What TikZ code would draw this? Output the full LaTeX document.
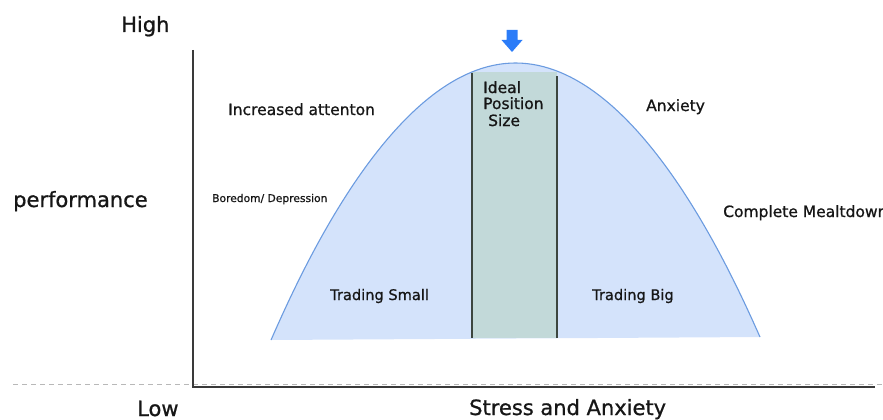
\documentclass[tikz,border=0pt]{standalone}
\usepackage{fontspec}
\setmainfont[FakeBold=0.9]{DejaVu Sans}
\usetikzlibrary{positioning}

\definecolor{curvefill}{HTML}{D4E3FB}
\definecolor{curveline}{HTML}{6B9BE0}
\definecolor{bandfill}{HTML}{C2D9D9}
\definecolor{bandline}{HTML}{3C463F}
\definecolor{arrowblue}{HTML}{2B7CF8}
\definecolor{axisgray}{HTML}{3A3A3A}
\definecolor{dashgray}{HTML}{B8B8B8}
\definecolor{labelgray}{HTML}{161616}

\begin{document}
\begin{tikzpicture}[x=1pt,y=-1pt,
    biglabel/.style={font=\fontsize{21}{25}\selectfont, text=labelgray, inner sep=0pt, anchor=base west},
    midlabel/.style={font=\fontsize{15.5}{16.5}\selectfont, text=labelgray, inner sep=0pt, anchor=base west},
    tradelabel/.style={font=\fontsize{14.6}{17}\selectfont, text=labelgray, inner sep=0pt, anchor=base west},
    smalllabel/.style={font=\fontsize{10.7}{13}\selectfont, text=labelgray, inner sep=0pt, anchor=base west}]
    \useasboundingbox (0,0) rectangle (883,420);

    % Axes
    \coordinate (ytop) at (193,50);
    \coordinate (origin) at (193,387);
    \coordinate (xend) at (875,387);
    \coordinate (dashstart) at (13,384);
    \coordinate (dashend) at (883,384);
    \draw[dashgray, line width=1pt, dash pattern=on 5pt off 4pt] (dashstart) -- (dashend);
    \draw[axisgray, line width=1.6pt] (ytop) -- (origin) -- (xend);

    % Performance curve
    \coordinate (leftfoot) at (271,340);
    \coordinate (peak) at (515.5,63);
    \coordinate (rightfoot) at (760,337);
    \fill[curvefill] (leftfoot) parabola bend (peak) (rightfoot) -- cycle;

    % Ideal band
    \fill[bandfill] (472,72) rectangle (557,338);
    \draw[bandline, line width=1.6pt] (472,73) -- (472,338);
    \draw[bandline, line width=1.6pt] (557,76) -- (557,338);
    \draw[curveline, line width=1.1pt] (leftfoot) parabola bend (peak) (rightfoot);

    % Marker above the peak
    \fill[arrowblue] (506.5,30) -- (517.5,30) -- (517.5,40) -- (522.5,40)
        -- (512,52) -- (501.5,40) -- (506.5,40) -- cycle;

    % Labels
    \node[biglabel] (high) at (121,32) {High};
    \node[biglabel] (perf) at (13,207) {performance};
    \node[biglabel] (low) at (137,416) {Low};
    \node[biglabel] (xlabel) at (469,415) {Stress and Anxiety};
    \node[midlabel] (attention) at (228,115) {Increased attenton};
    \node[smalllabel] (boredom) at (212,202) {Boredom/ Depression};
    \node[midlabel] (ideal) at (483,93) {Ideal};
    \node[midlabel] (position) at (483,109) {Position};
    \node[midlabel] (size) at (488,126) {Size};
    \node[midlabel] (anxiety) at (646,111) {Anxiety};
    \node[midlabel] (meltdown) at (723,217) {Complete Mealtdown};
    \node[tradelabel] (small) at (330,300) {Trading Small};
    \node[tradelabel] (big) at (592,300) {Trading Big};
\end{tikzpicture}
\end{document}
